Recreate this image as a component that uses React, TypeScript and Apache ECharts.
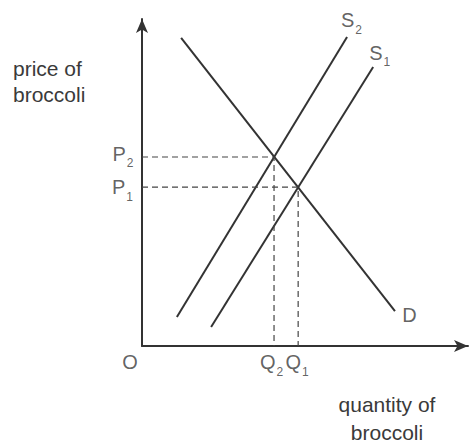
import React, { useEffect, useRef } from "react";
import * as echarts from "echarts";

// Curve end points in data units (quantity 0-100, price 0-100)
const demandLine: number[][] = [[12.0, 94.2], [77.6, 10.7]];
const supply2Line: number[][] = [[10.7, 8.9], [62.9, 94.5]];
const supply1Line: number[][] = [[21.2, 5.8], [70.9, 85.3]];

const priceNames = ["P2", "P1"];
const priceValues = [57.8, 48.6];
const quantityNames = ["Q2", "Q1"];
const quantityValues = [40.5, 47.9];

const curveNames = ["S2", "S1", "D"];

const TEXT = "#3a3a3a";
const LINE = "#333333";
const FONT = "Liberation Sans, Arial, sans-serif";

function sub(name: string): string {
  const main = name.charAt(0);
  const rest = name.slice(1);
  return rest ? `{m|${main}}{s|${rest}}` : `{m|${main}}`;
}

const rich = {
  m: { fontSize: 20, lineHeight: 22, color: TEXT, fontFamily: FONT, textBorderWidth: 0 },
  s: { fontSize: 12, lineHeight: 12, padding: [19, 0, 0, 1], color: TEXT, fontFamily: FONT, textBorderWidth: 0 },
};

export default function App() {
  const ref = useRef<HTMLDivElement>(null);
  useEffect(() => {
    if (!ref.current) return;
    const chart = echarts.init(ref.current, null, { renderer: "svg" });

    const axisCommon = {
      type: "value" as const,
      min: 0,
      max: 100,
      axisLine: {
        show: true,
        onZero: false,
        symbol: ["none", "arrow"],
        symbolSize: [9, 14],
        lineStyle: { color: LINE, width: 2 },
      },
      axisTick: { show: false },
      axisLabel: { show: false },
      splitLine: { show: false },
    };

    const curveSeries = [
      { name: "D", data: demandLine },
      { name: "S2", data: supply2Line },
      { name: "S1", data: supply1Line },
    ].map((c) => ({
      type: "line" as const,
      name: c.name,
      data: c.data,
      symbol: "none",
      silent: true,
      lineStyle: { color: LINE, width: 2 },
    }));

    const dashSeries = priceValues.map((p, i) => ({
      type: "line" as const,
      data: [
        [0, p],
        [quantityValues[i], p],
        [quantityValues[i], 0],
      ],
      symbol: "none",
      silent: true,
      lineStyle: { color: "#444", width: 1.2, type: [6, 4] as any },
    }));

    const labelItems: any[] = [];
    const pOffsets = [[-19, -3], [-19.5, 0]];
    priceNames.forEach((n, i) => {
      labelItems.push({
        value: [0, priceValues[i]],
        label: { formatter: sub(n), offset: pOffsets[i] },
      });
    });
    const qOffsets = [[-2.5, 16], [-1, 16]];
    quantityNames.forEach((n, i) => {
      labelItems.push({
        value: [quantityValues[i], 0],
        label: { formatter: sub(n), offset: qOffsets[i] },
      });
    });
    const curveEnds = [supply2Line[1], supply1Line[1], demandLine[1]];
    const curveOffsets = [[4.5, -16.5], [6.5, -14.5], [14.5, 4]];
    curveNames.forEach((n, i) => {
      labelItems.push({
        value: curveEnds[i],
        label: { formatter: sub(n), offset: curveOffsets[i] },
      });
    });
    labelItems.push({ value: [0, 0], label: { formatter: "{m|O}", offset: [-12, 16] } });

    chart.setOption({
      animation: false,
      backgroundColor: "#ffffff",
      grid: { left: 142, top: 19, right: 8, bottom: 97, containLabel: false },
      xAxis: axisCommon,
      yAxis: axisCommon,
      series: [
        ...curveSeries,
        ...dashSeries,
        {
          type: "scatter",
          data: labelItems,
          symbolSize: 1,
          silent: true,
          itemStyle: { color: "rgba(0,0,0,0)" },
          label: {
            show: true,
            position: "inside",
            color: TEXT,
            textBorderWidth: 0,
            textBorderColor: "transparent",
            rich,
          },
          emphasis: { disabled: true },
        },
      ],
      graphic: [
        {
          type: "text",
          left: 13,
          top: 55.5,
          silent: true,
          style: {
            text: "price of\nbroccoli",
            fontSize: 21,
            lineHeight: 26,
            fill: TEXT,
            fontFamily: FONT,
          },
        },
        {
          type: "text",
          x: 387,
          y: 390,
          silent: true,
          style: {
            text: "quantity of\nbroccoli",
            fontSize: 21,
            lineHeight: 28,
            fill: TEXT,
            fontFamily: FONT,
            align: "center",
            verticalAlign: "top",
          },
        },
      ],
    });
    return () => chart.dispose();
  }, []);
  return (
    <div
      ref={ref}
      style={{ position: "absolute", left: 0, top: 0, width: 476, height: 443 }}
    />
  );
}
